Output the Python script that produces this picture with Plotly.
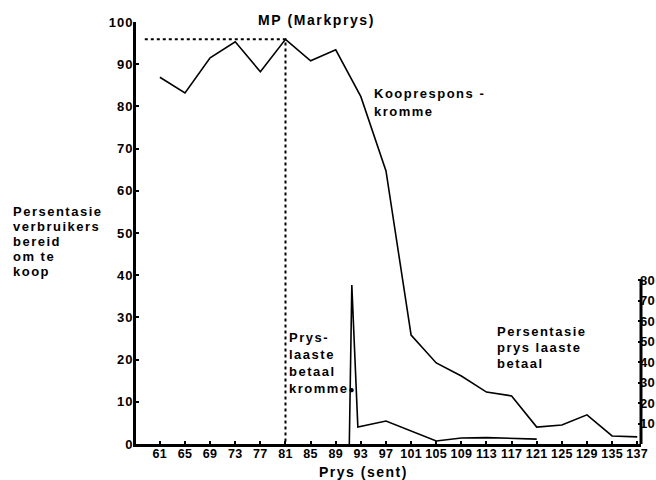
import plotly.graph_objects as go

# ---------------- data ----------------
prices = ["61", "65", "69", "73", "77", "81", "85", "89", "93", "97",
          "101", "105", "109", "113", "117", "121", "125", "129", "135", "137"]
koop_pct = [86.9, 83.2, 91.5, 95.3, 88.2, 95.9, 90.8, 93.4, 82.3, 64.7,
            25.8, 19.2, 16.1, 12.3, 11.4, 4.0, 4.5, 6.9, 1.9, 1.7]
# price-last-paid curve (position along the price index, spike falls between 89 and 93)
laaste_pos = [7.54, 7.64, 7.88, 9, 11, 12, 13, 14, 15]
laaste_pct = [0, 77.5, 8.3, 11.2, 1.5, 2.9, 3.1, 2.9, 2.4]
left_ticks = [0, 10, 20, 30, 40, 50, 60, 70, 80, 90, 100]
right_ticks = [10, 20, 30, 40, 50, 60, 70, 80]
right_max = 80
mp_index = 5          # Markprys = 81 sent
mp_line_start = -0.6  # dotted guide starts at the left axis

# ---------------- style ----------------
FONT = "Liberation Sans, Arial, sans-serif"
W, H = 656, 480
ML, MR, MT, MB = 136, 15, 22, 36
PW, PH = W - ML - MR, H - MT - MB
RIGHT_TOP_PX = 280  # pixel height where the right scale reaches its top value


def sp(t, ls=1.5):
    return f"<span style='letter-spacing:{ls}px'>{t}</span>"


idx = list(range(len(prices)))

fig = go.Figure()
fig.add_trace(go.Scatter(x=idx, y=koop_pct, mode="lines",
                         line=dict(color="black", width=1.6),
                         xaxis="x", yaxis="y", showlegend=False, hoverinfo="skip"))
fig.add_trace(go.Scatter(x=[mp_line_start, mp_index, mp_index],
                         y=[koop_pct[mp_index], koop_pct[mp_index], 0],
                         mode="lines", line=dict(color="black", width=2, dash="dot"),
                         xaxis="x", yaxis="y", showlegend=False, hoverinfo="skip"))
fig.add_trace(go.Scatter(x=laaste_pos, y=laaste_pct, mode="lines",
                         line=dict(color="black", width=1.6),
                         xaxis="x", yaxis="y2", showlegend=False, hoverinfo="skip"))

tickfont = dict(family=FONT, size=13, color="black", weight="bold")
y2_top = right_max * PH / (H - MB - RIGHT_TOP_PX)

fig.update_layout(
    width=W, height=H,
    margin=dict(l=ML, r=MR, t=MT, b=MB, pad=0, autoexpand=False),
    paper_bgcolor="white", plot_bgcolor="white",
    font=dict(family=FONT, color="black"),
    xaxis=dict(range=[-0.95, 19.15], tickmode="array", tickvals=idx,
               ticktext=[sp(p, 0.3) for p in prices], tickangle=0, automargin=False,
               showgrid=False, zeroline=False, showline=True, linecolor="black",
               linewidth=3, ticks="inside", ticklen=3, tickwidth=1.5, tickcolor="black",
               ticklabelstandoff=-4,
               tickfont=dict(family=FONT, size=12.5, color="black", weight="bold")),
    yaxis=dict(range=[0, 100], tickmode="array", tickvals=left_ticks,
               ticktext=[sp(str(v), 1) for v in left_ticks], automargin=False,
               showgrid=False, zeroline=False, showline=True, linecolor="black",
               linewidth=3, ticks="inside", ticklen=3, tickwidth=1.5, tickcolor="black",
               ticklabelstandoff=-3, tickfont=tickfont),
    yaxis2=dict(range=[0, y2_top], overlaying="y", side="right", automargin=False,
                tickmode="array", tickvals=right_ticks,
                ticktext=[sp(str(v), 0.2) for v in right_ticks],
                showgrid=False, zeroline=False, showline=False,
                ticks="inside", ticklen=3, tickwidth=1.5, tickcolor="black",
                ticklabelstandoff=-2, tickfont=tickfont),
)

# right-hand axis line only spans its 0..80 scale
fig.add_shape(type="line", xref="paper", yref="y2", x0=1, x1=1, y0=0, y1=right_max,
              line=dict(color="black", width=3))


def px2paper(px, py):
    return (px - ML) / PW, (H - MB - py) / PH


def add_lines(lines, x_left, y_first, step, size=13, ls=1.5):
    for i, t in enumerate(lines):
        xp, yp = px2paper(x_left, y_first + i * step)
        fig.add_annotation(x=xp, y=yp, xref="paper", yref="paper", text=sp(t, ls),
                           showarrow=False, xanchor="left", yanchor="middle",
                           font=dict(family=FONT, size=size, color="black", weight="bold"),
                           borderpad=0)


add_lines(["MP (Markprys)"], 257, 20, 0, size=14, ls=1.6)
add_lines(["Kooprespons -", "kromme"], 373, 93, 19)
add_lines(["Persentasie", "verbruikers", "bereid", "om te", "koop"], 12, 211, 15)
add_lines(["Persentasie", "prys laaste", "betaal"], 496, 332, 15.5)
add_lines(["Prys-", "laaste", "betaal", "kromme<span style='font-size:10px'>●</span>"], 288, 337, 17)
add_lines(["Prys (sent)"], 318, 472, 0, size=14, ls=1.5)

fig.write_html("out.html", config={"displayModeBar": False},
               post_script="document.body.style.margin='0';")
